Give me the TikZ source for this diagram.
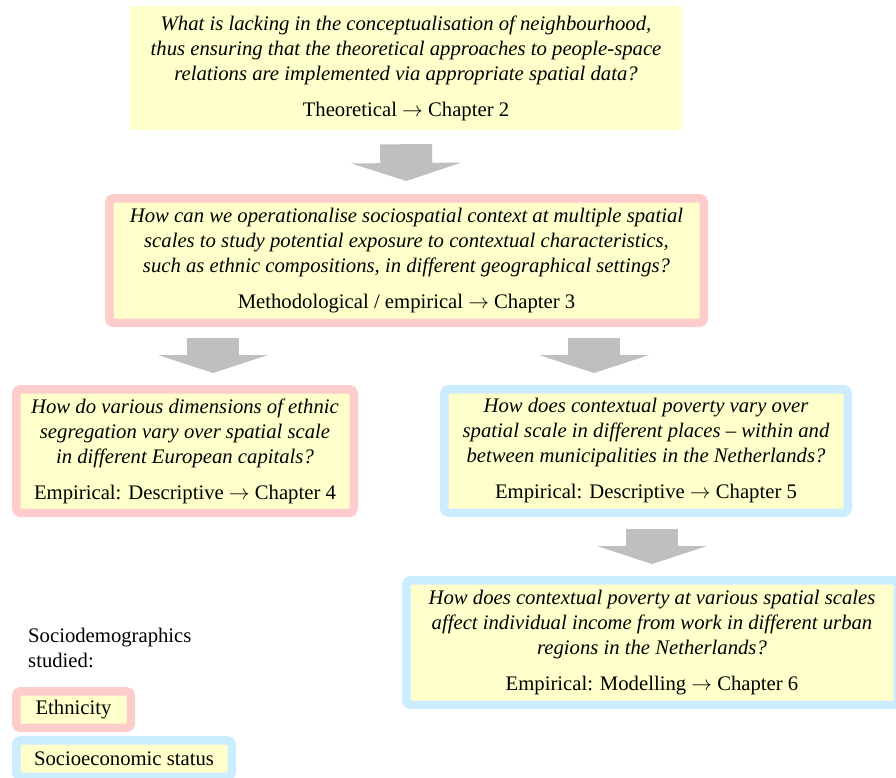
\documentclass[tikz,border=0pt]{standalone}
\usepackage{fontspec}
\setmainfont{Liberation Serif}
\usetikzlibrary{arrows.meta, positioning}
\definecolor{qyellow}{HTML}{FFFFCC}
\definecolor{ethpink}{HTML}{FFCCCC}
\definecolor{sesblue}{HTML}{CCECFF}
\definecolor{arrowgrey}{HTML}{BFBFBF}
\newcommand{\qsize}{\fontsize{20.7}{25}\selectfont}
\newcommand{\tochap}{ $\rightarrow$ }

\begin{document}
\begin{tikzpicture}[x=1pt, y=-1pt,
  question/.style={fill=qyellow, align=center, inner sep=0pt, font=\qsize\itshape},
  ethbox/.style={question, draw=ethpink, line width=8.5pt, rounded corners=4.25pt},
  sesbox/.style={question, draw=sesblue, line width=8.5pt, rounded corners=4.25pt},
  bigarrow/.style={draw=arrowgrey, line width=52pt, -{Triangle[length=18pt, width=110pt, line width=0pt]}}]
\useasboundingbox (0,0) rectangle (896,777);

% research questions
\node (ch2)[question, minimum width=552pt, minimum height=124pt] at (406,68)
  {What is lacking in the conceptualisation of neighbourhood,\\
   thus ensuring that the theoretical approaches to people-space\\
   relations are implemented via appropriate spatial data?\\[11pt]
   \upshape Theoretical\tochap Chapter 2};
\node (ch3)[ethbox, minimum width=594.5pt, minimum height=124.5pt] at (406.5,260.5)
  {How can we operationalise sociospatial context at multiple spatial\\
   scales to study potential exposure to contextual characteristics,\\
   such as ethnic compositions, in different geographical settings?\\[11pt]
   \upshape Methodological / empirical\tochap Chapter 3};
\node (ch4)[ethbox, minimum width=337.5pt, minimum height=123.5pt] at (185,451)
  {How do various dimensions of ethnic\\
   segregation vary over spatial scale\\
   in different European capitals?\\[11pt]
   \upshape Empirical: Descriptive\tochap Chapter 4};
\node (ch5)[sesbox, minimum width=403.5pt, minimum height=123.5pt] at (646,451)
  {How does contextual poverty vary over\\
   spatial scale in different places – within and\\
   between municipalities in the Netherlands?\\[11pt]
   \upshape Empirical: Descriptive\tochap Chapter 5};
\node (ch6)[sesbox, minimum width=491.5pt, minimum height=124.5pt] at (652,642.5)
  {How does contextual poverty at various spatial scales\\
   affect individual income from work in different urban\\
   regions in the Netherlands?\\[11pt]
   \upshape Empirical: Modelling\tochap Chapter 6};

% legend
\node (legend)[anchor=north west, inner sep=0pt, align=left, font=\qsize] at (28,628) {Sociodemographics\\studied:};
\node (eth)[ethbox, font=\qsize, minimum width=114.5pt, minimum height=36.5pt] at (73.5,709.5) {Ethnicity};
\node (ses)[sesbox, font=\qsize, minimum width=215.5pt, minimum height=36.5pt] at (124,758.5) {Socioeconomic status};

% block arrows
\draw[bigarrow, shorten <=14pt, shorten >=13pt] (ch2.south) -- (ch3.north);
\draw[bigarrow, shorten <=11pt, shorten >=12pt] ([xshift=-193.5pt]ch3.south) -- ([xshift=28pt]ch4.north);
\draw[bigarrow, shorten <=11pt, shorten >=12pt] ([xshift=187.5pt]ch3.south) -- ([xshift=-52pt]ch5.north);
\draw[bigarrow, shorten <=12pt, shorten >=12pt] ([xshift=6pt]ch5.south) -- (ch6.north);
\end{tikzpicture}
\end{document}
